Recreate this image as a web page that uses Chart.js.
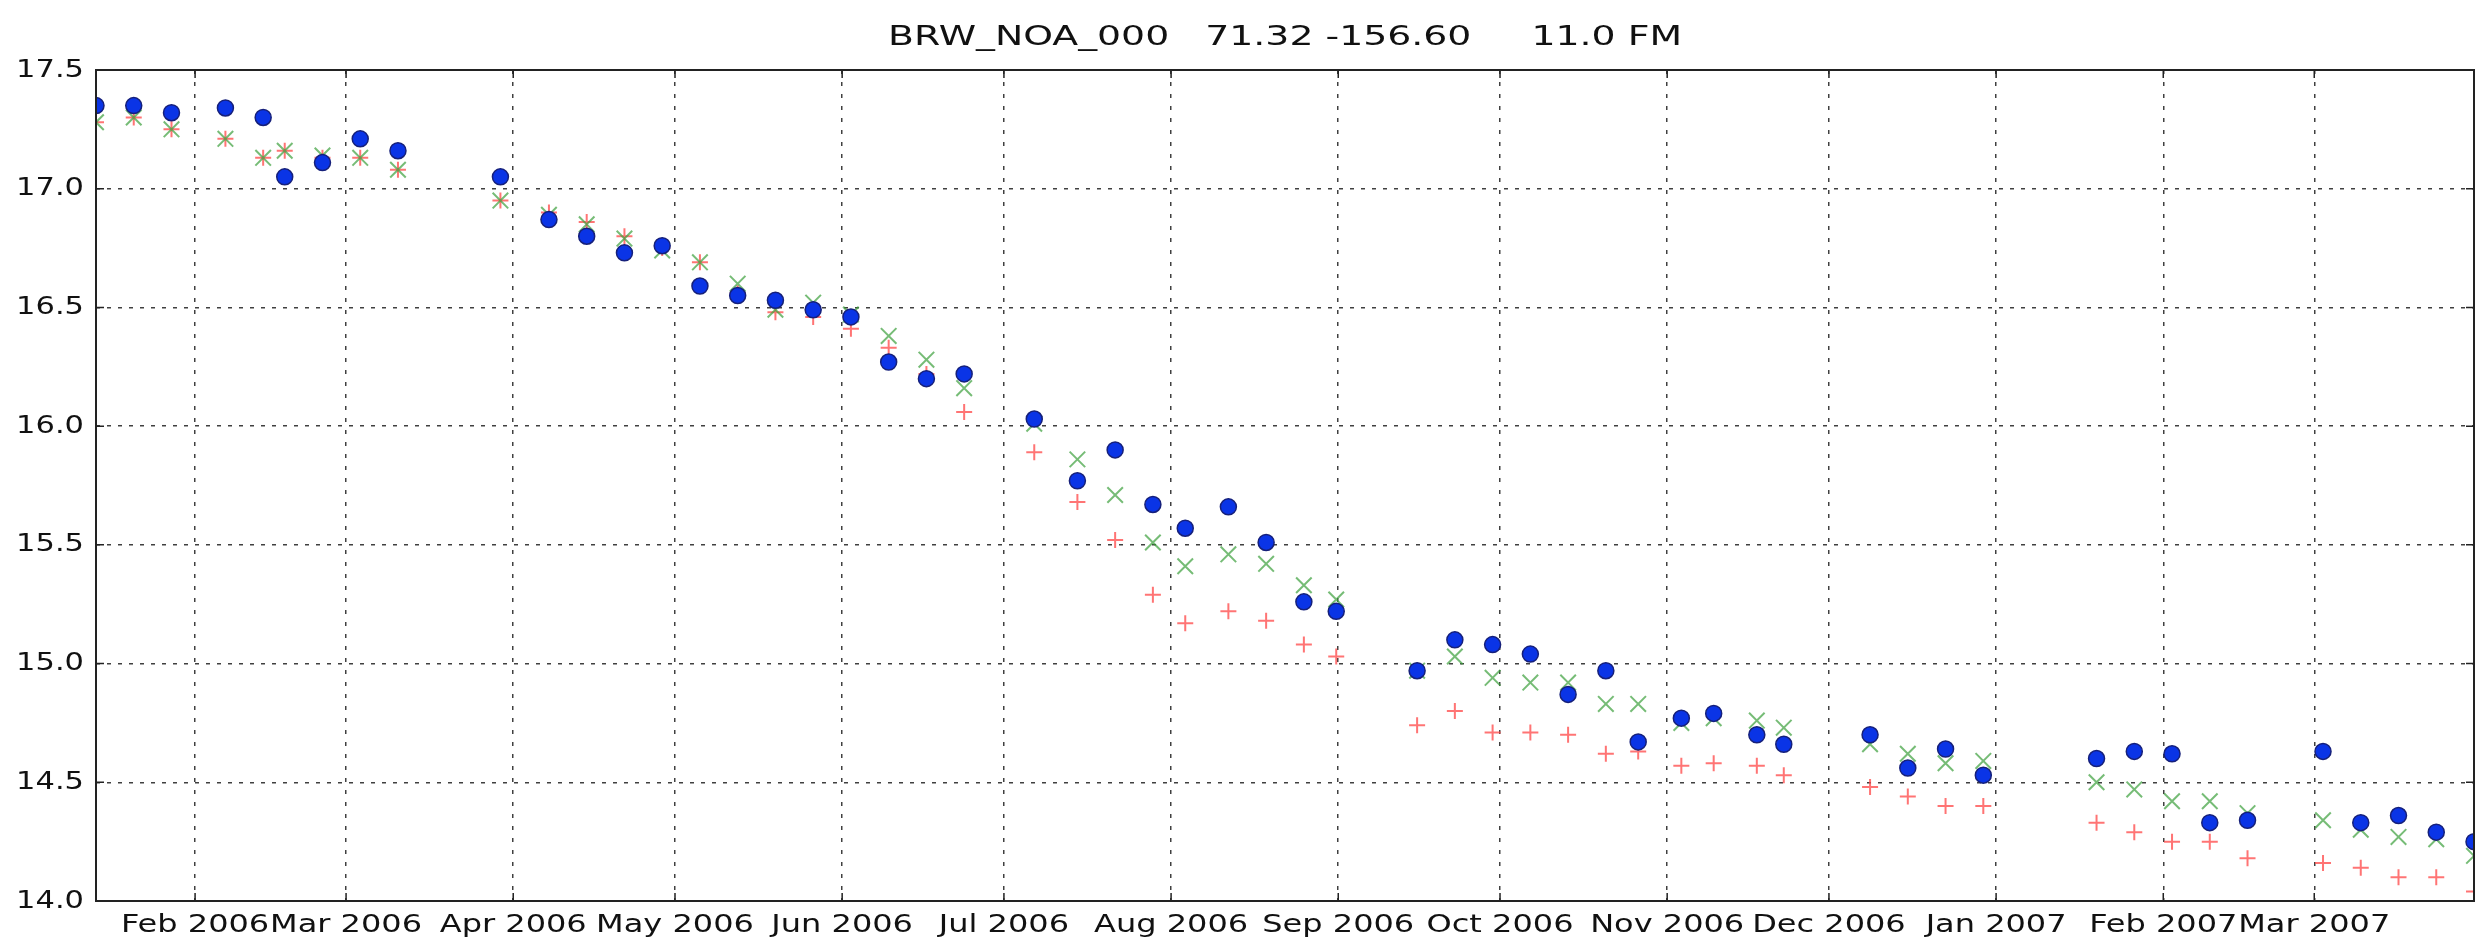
<!DOCTYPE html>
<html>
<head>
<meta charset="utf-8">
<title>BRW_NOA_000</title>
<script src="https://cdn.jsdelivr.net/npm/chart.js@4.4.1/dist/chart.umd.min.js"></script>
<style>
    html, body { margin: 0; padding: 0; background: #fff; }
    canvas { display: block; }
</style>
</head>
<body>
<canvas id="grafico" width="2487" height="943"></canvas>
<script>
const titulo = "BRW_NOA_000   71.32 -156.60     11.0 FM";

// one sample per date
const datas = [
    "2006-01-13", "2006-01-20", "2006-01-27", "2006-02-06", "2006-02-13", "2006-02-17", "2006-02-24",
    "2006-03-03", "2006-03-10", "2006-03-29", "2006-04-07", "2006-04-14", "2006-04-21", "2006-04-28",
    "2006-05-05", "2006-05-12", "2006-05-19", "2006-05-26", "2006-06-02", "2006-06-09", "2006-06-16",
    "2006-06-23", "2006-07-06", "2006-07-14", "2006-07-21", "2006-07-28", "2006-08-03", "2006-08-11",
    "2006-08-18", "2006-08-25", "2006-08-31", "2006-09-15", "2006-09-22", "2006-09-29", "2006-10-06",
    "2006-10-13", "2006-10-20", "2006-10-26", "2006-11-03", "2006-11-09", "2006-11-17", "2006-11-22",
    "2006-12-08", "2006-12-15", "2006-12-22", "2006-12-29", "2007-01-19", "2007-01-26", "2007-02-02",
    "2007-02-09", "2007-02-16", "2007-03-02", "2007-03-09", "2007-03-16", "2007-03-23", "2007-03-30"
];

const serieCirculo = [
    17.35, 17.35, 17.32, 17.34, 17.30, 17.05, 17.11, 17.21, 17.16, 17.05,
    16.87, 16.80, 16.73, 16.76, 16.59, 16.55, 16.53, 16.49, 16.46, 16.27,
    16.20, 16.22, 16.03, 15.77, 15.90, 15.67, 15.57, 15.66, 15.51, 15.26,
    15.22, 14.97, 15.10, 15.08, 15.04, 14.87, 14.97, 14.67, 14.77, 14.79,
    14.70, 14.66, 14.70, 14.56, 14.64, 14.53, 14.60, 14.63, 14.62, 14.33,
    14.34, 14.63, 14.33, 14.36, 14.29, 14.25
];

const serieX = [
    17.28, 17.30, 17.25, 17.21, 17.13, 17.16, 17.14, 17.13, 17.08, 16.95,
    16.89, 16.85, 16.79, 16.74, 16.69, 16.60, 16.49, 16.52, 16.47, 16.38,
    16.28, 16.16, 16.01, 15.86, 15.71, 15.51, 15.41, 15.46, 15.42, 15.33,
    15.27, 14.97, 15.03, 14.94, 14.92, 14.92, 14.83, 14.83, 14.75, 14.77,
    14.76, 14.73, 14.66, 14.62, 14.58, 14.59, 14.50, 14.47, 14.42, 14.42,
    14.37, 14.34, 14.30, 14.27, 14.26, 14.19
];

const serieMais = [
    17.28, 17.30, 17.25, 17.21, 17.13, 17.16, 17.13, 17.13, 17.08, 16.95,
    16.90, 16.86, 16.80, 16.75, 16.69, 16.56, 16.48, 16.46, 16.41, 16.33,
    16.22, 16.06, 15.89, 15.68, 15.52, 15.29, 15.17, 15.22, 15.18, 15.08,
    15.03, 14.74, 14.80, 14.71, 14.71, 14.70, 14.62, 14.63, 14.57, 14.58,
    14.57, 14.53, 14.48, 14.44, 14.40, 14.40, 14.33, 14.29, 14.25, 14.25,
    14.18, 14.16, 14.14, 14.10, 14.10, 14.04
];

const mesesTicks = [
    "2006-02-01", "2006-03-01", "2006-04-01", "2006-05-01", "2006-06-01", "2006-07-01", "2006-08-01",
    "2006-09-01", "2006-10-01", "2006-11-01", "2006-12-01", "2007-01-01", "2007-02-01", "2007-03-01"
];
const mesesLabels = [
    "Feb 2006", "Mar 2006", "Apr 2006", "May 2006", "Jun 2006", "Jul 2006", "Aug 2006",
    "Sep 2006", "Oct 2006", "Nov 2006", "Dec 2006", "Jan 2007", "Feb 2007", "Mar 2007"
];
const yTicks = [14.0, 14.5, 15.0, 15.5, 16.0, 16.5, 17.0, 17.5];

// days since 2006-01-01, samples taken mid afternoon
const base = Date.UTC(2006, 0, 1);
function toDay(s) {
    const [a, m, d] = s.split("-").map(Number);
    return (Date.UTC(a, m - 1, d) - base) / 86400000;
}
const horaAmostra = 0.625;

function pontos(valores) {
    return valores.map((v, i) => ({ x: toDay(datas[i]) + horaAmostra, y: v }));
}

const xMin = toDay(datas[0]) + horaAmostra;
const xMax = toDay(datas[datas.length - 1]) + horaAmostra;

// text in the source image is wider than normal, so stretch it a bit
function texto(ctx, txt, x, y, size, sx, align, baseline) {
    ctx.save();
    ctx.font = size + "px 'DejaVu Sans'";
    ctx.fillStyle = "#111";
    ctx.textAlign = align;
    ctx.textBaseline = baseline;
    ctx.translate(x, y);
    ctx.scale(sx, 1);
    ctx.fillText(txt, 0, 0);
    ctx.restore();
}

const eixos = {
    id: "eixos",
    beforeDraw(chart) {
        const ctx = chart.ctx;
        ctx.save();
        ctx.fillStyle = "#fff";
        ctx.fillRect(0, 0, chart.width, chart.height);
        ctx.restore();
    },
    afterDatasetsDraw(chart) {
        const { ctx, chartArea: a, scales: { x, y } } = chart;
        ctx.save();
        ctx.strokeStyle = "#222";
        ctx.lineWidth = 1.5;
        ctx.beginPath();
        x.ticks.forEach(t => {
            const px = x.getPixelForValue(t.value);
            ctx.moveTo(px, a.bottom); ctx.lineTo(px, a.bottom - 8);
            ctx.moveTo(px, a.top); ctx.lineTo(px, a.top + 8);
        });
        y.ticks.forEach(t => {
            const py = y.getPixelForValue(t.value);
            ctx.moveTo(a.left, py); ctx.lineTo(a.left + 8, py);
            ctx.moveTo(a.right, py); ctx.lineTo(a.right - 8, py);
        });
        ctx.stroke();
        ctx.lineWidth = 2;
        ctx.strokeRect(a.left, a.top, a.right - a.left, a.bottom - a.top);
        ctx.restore();
    },
    afterDraw(chart) {
        const { ctx, chartArea: a, scales: { x, y } } = chart;
        texto(ctx, titulo, (a.left + a.right) / 2, 45, 27, 1.4, "center", "alphabetic");
        x.ticks.forEach((t, i) => {
            texto(ctx, mesesLabels[i], x.getPixelForValue(t.value), 932, 25, 1.28, "center", "alphabetic");
        });
        y.ticks.forEach(t => {
            texto(ctx, t.value.toFixed(1), a.left - 12, y.getPixelForValue(t.value), 25, 1.22, "right", "middle");
        });
    }
};

const grade = { color: "rgba(0,0,0,0.75)", lineWidth: 1.5, drawTicks: false };

new Chart(document.getElementById("grafico"), {
    type: "scatter",
    data: {
        datasets: [
            {
                label: "o",
                data: pontos(serieCirculo),
                pointStyle: "circle",
                pointRadius: 8,
                backgroundColor: "#0a34e6",
                borderColor: "#16207a",
                borderWidth: 1.5,
                clip: 0
            },
            {
                label: "x",
                data: pontos(serieX),
                pointStyle: "crossRot",
                pointRadius: 11,
                borderColor: "rgba(60,160,60,0.7)",
                borderWidth: 2,
                clip: 0
            },
            {
                label: "+",
                data: pontos(serieMais),
                pointStyle: "cross",
                pointRadius: 8,
                borderColor: "rgba(255,70,70,0.75)",
                borderWidth: 2,
                clip: 0
            }
        ]
    },
    options: {
        responsive: false,
        animation: false,
        devicePixelRatio: 1,
        events: [],
        layout: { padding: { left: 96, right: 10, top: 70, bottom: 42 } },
        plugins: {
            legend: { display: false },
            tooltip: { enabled: false },
            title: { display: false }
        },
        scales: {
            x: {
                type: "linear",
                min: xMin,
                max: xMax,
                afterBuildTicks: s => { s.ticks = mesesTicks.map(d => ({ value: toDay(d) })); },
                ticks: { display: false },
                grid: grade,
                border: { display: false, dash: [4, 8] }
            },
            y: {
                type: "linear",
                min: 14,
                max: 17.5,
                afterBuildTicks: s => { s.ticks = yTicks.map(v => ({ value: v })); },
                ticks: { display: false },
                grid: grade,
                border: { display: false, dash: [4, 7] }
            }
        }
    },
    plugins: [eixos]
});
</script>
</body>
</html>
